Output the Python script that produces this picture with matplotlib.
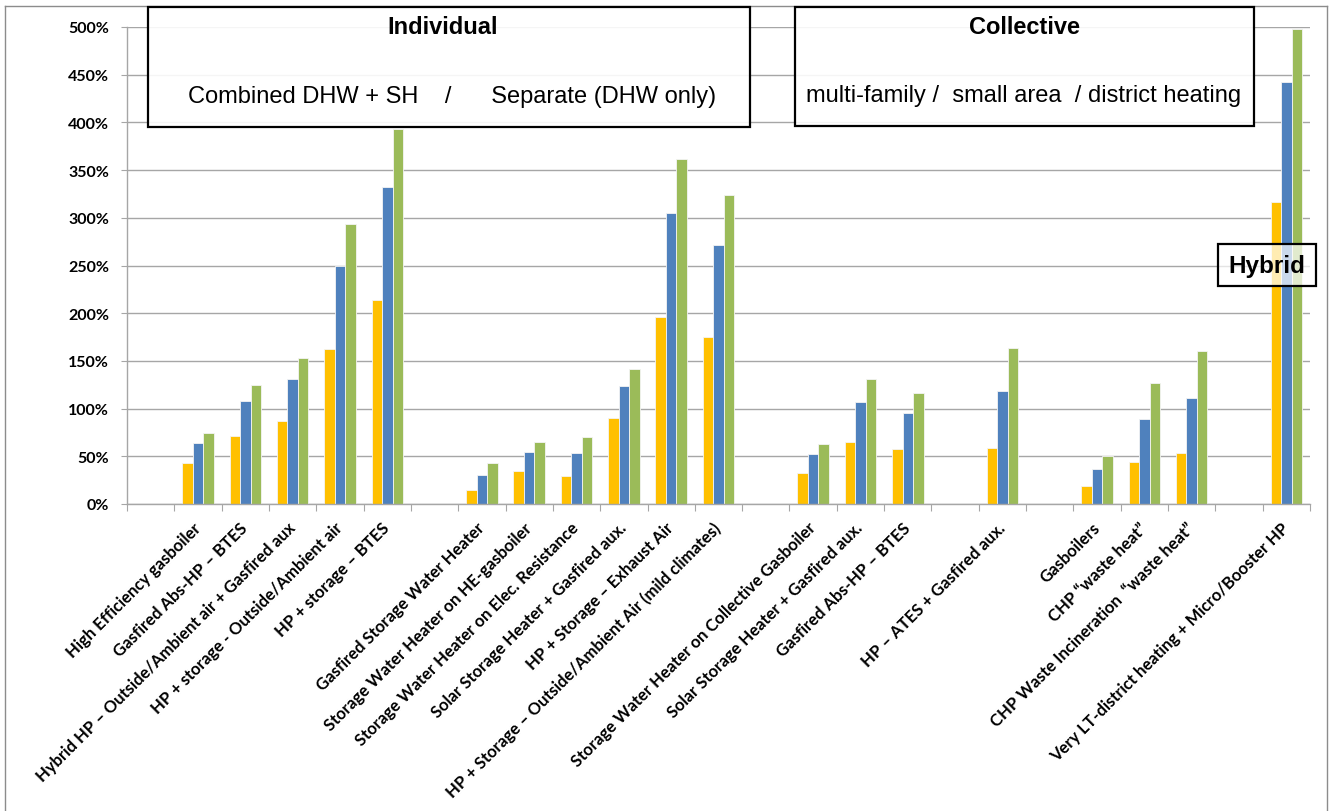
import numpy as np
import matplotlib
matplotlib.use("Agg")
import matplotlib.pyplot as plt
from matplotlib.patches import Rectangle
from matplotlib.lines import Line2D
from matplotlib.ticker import FuncFormatter

# one entry per category slot; "" marks the empty separator slots
categories = [
    "",
    "High Efficiency gasboiler",
    "Gasfired Abs-HP – BTES",
    "Hybrid HP – Outside/Ambient air + Gasfired aux",
    "HP + storage - Outside/Ambient air",
    "HP + storage – BTES",
    "",
    "Gasfired Storage Water Heater",
    "Storage Water Heater on HE-gasboiler",
    "Storage Water Heater on Elec. Resistance",
    "Solar Storage Heater + Gasfired aux.",
    "HP + Storage – Exhaust Air",
    "HP + Storage – Outside/Ambient Air (mild climates)",
    "",
    "Storage Water Heater on Collective Gasboiler",
    "Solar Storage Heater + Gasfired aux.",
    "Gasfired Abs-HP – BTES",
    "",
    "HP – ATES + Gasfired aux.",
    "",
    "Gasboilers",
    "CHP “waste heat”",
    "CHP Waste Incineration  “waste heat”",
    "",
    "Very LT-district heating + Micro/Booster HP",
]

# values in percent
series_orange = [None, 43, 71, 87, 162, 214, None, 15, 35, 29, 90, 196, 175, None,
                 32, 65, 58, None, 59, None, 19, 44, 53, None, 317]
series_blue = [None, 64, 108, 131, 250, 332, None, 30, 54, 53, 124, 305, 272, None,
               52, 107, 95, None, 118, None, 37, 89, 111, None, 442]
series_green = [None, 74, 125, 153, 294, 393, None, 43, 65, 70, 142, 362, 324, None,
                63, 131, 116, None, 163, None, 50, 127, 160, None, 498]

colors = ["#FFC000", "#4F81BD", "#9BBB59"]
yticks = [0, 50, 100, 150, 200, 250, 300, 350, 400, 450, 500]

W, H = 1336, 812
fig = plt.figure(figsize=(W / 100, H / 100), dpi=100)
ax = fig.add_axes([127 / W, 1 - 505 / H, (1310 - 127) / W, (505 - 28) / H])

x = np.arange(len(categories))
bw = 0.222
for i, (vals, c) in enumerate(zip([series_orange, series_blue, series_green], colors)):
    h = np.array([np.nan if v is None else v for v in vals], dtype=float)
    ax.bar(x + (i - 1) * bw, h, width=bw, color=c, edgecolor="#f4f4f4",
           linewidth=0.6, zorder=2)

ax.set_xlim(-0.5, len(categories) - 0.5)
ax.set_ylim(0, 500)
ax.set_yticks(yticks)
ax.yaxis.set_major_formatter(FuncFormatter(lambda v, p: f"{v:.0f}%"))
ax.grid(axis="y", color="#a6a6a6", linewidth=1.0, zorder=0)
ax.set_axisbelow(True)

# category boundaries get tick marks, centres carry the labels
ax.set_xticks(np.arange(len(categories) + 1) - 0.5)
ax.set_xticklabels([])
ax.set_xticks(x, minor=True)
ax.set_xticklabels(categories, minor=True, rotation=45, ha="right", va="center",
                   rotation_mode="anchor", fontsize=12.0, fontweight="bold",
                   family="Lato")
ax.tick_params(axis="x", which="minor", length=0, pad=15)
ax.tick_params(axis="x", which="major", length=5, color="#a6a6a6", direction="out")
ax.tick_params(axis="y", length=4, color="#a6a6a6", pad=9)
for lab in ax.get_yticklabels():
    lab.set_fontweight("bold")
    lab.set_fontsize(11.5)
    lab.set_family("Lato")

for s in ["top", "right"]:
    ax.spines[s].set_visible(False)
for s in ["left", "bottom"]:
    ax.spines[s].set_color("#a6a6a6")
    ax.spines[s].set_linewidth(1.0)


def px_box(x0, y0, x1, y1, alpha):
    r = Rectangle((x0 / W, 1 - y1 / H), (x1 - x0) / W, (y1 - y0) / H,
                  transform=fig.transFigure, facecolor=(1, 1, 1, alpha),
                  edgecolor="black", linewidth=1.6, zorder=5)
    fig.add_artist(r)


def px_text(xp, yp, s, **kw):
    fig.text(xp / W, 1 - yp / H, s, ha="center", va="center",
             family="Liberation Sans", zorder=6, **kw)


# group annotations
px_box(148, 8, 750, 128, 0.9)
px_text(443, 27, "Individual", fontsize=17, fontweight="bold")
px_text(452, 97, "Combined DHW + SH    /      Separate (DHW only)", fontsize=17)

px_box(795, 8, 1254, 127, 0.9)
px_text(1024, 27, "Collective", fontsize=17, fontweight="bold")
px_text(1024, 96, "multi-family /  small area  / district heating", fontsize=17)

px_box(1218, 245, 1316, 287, 0.7)
px_text(1267, 266, "Hybrid", fontsize=17.5, fontweight="bold")

# chart area frame
for xs, ys in [([5, 5], [7, 812]), ([5, 1327], [7, 7]), ([1327, 1327], [7, 812])]:
    fig.add_artist(Line2D([v / W for v in xs], [1 - v / H for v in ys],
                          transform=fig.transFigure, color="#8c8c8c", linewidth=1.0))

fig.savefig("out.png", dpi=100)
